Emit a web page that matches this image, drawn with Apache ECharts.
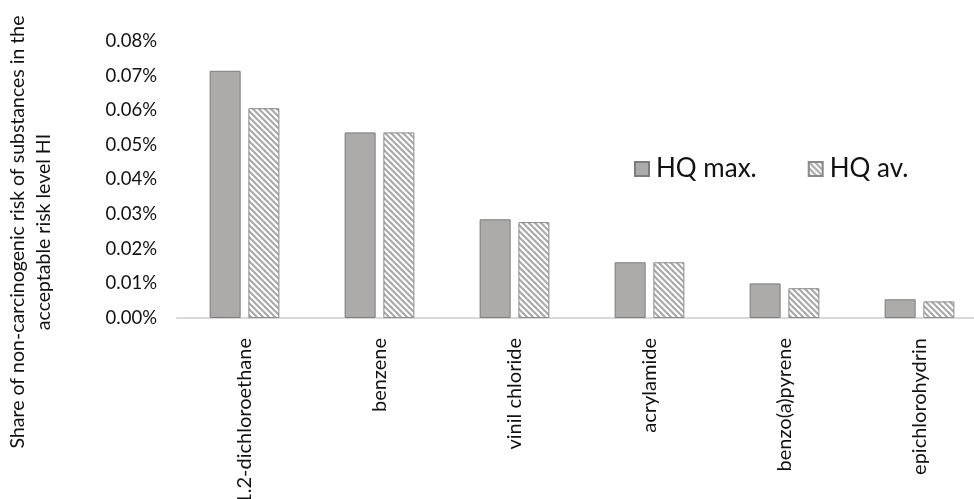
<!DOCTYPE html>
<html>
<head>
<meta charset="utf-8">
<script src="https://cdn.jsdelivr.net/npm/echarts@6/dist/echarts.min.js"></script>
<style>
  html, body { margin: 0; padding: 0; background: #fff; }
  #chart { width: 974px; height: 499px; }
</style>
</head>
<body>
<div id="chart"></div>
<script>
// Substances on the x axis
const categories = ['1.2-dichloroethane', 'benzene', 'vinil chloride', 'acrylamide', 'benzo(a)pyrene', 'epichlorohydrin'];
// Share of non-carcinogenic risk, in percent
const hqMax = [0.0714, 0.0536, 0.0285, 0.0161, 0.0100, 0.0054];
const hqAv  = [0.0606, 0.0536, 0.0277, 0.0161, 0.0086, 0.0048];
const seriesNames = ['HQ max.', 'HQ av.'];
const yTitle = 'Share of non-carcinogenic risk of substances in the\nacceptable risk level HI';

const FONT = 'Lato, "Open Sans", sans-serif';

// Diagonal hatch tile for the average series
function hatchTile() {
  const s = 6;
  const c = document.createElement('canvas');
  c.width = s; c.height = s;
  const g = c.getContext('2d');
  g.fillStyle = '#ffffff';
  g.fillRect(0, 0, s, s);
  g.strokeStyle = '#a9a9a9';
  g.lineWidth = 2.2;
  for (let k = -1; k <= 1; k++) {
    g.beginPath();
    g.moveTo(k * s - 1, -1);
    g.lineTo(k * s + s + 1, s + 1);
    g.stroke();
  }
  return c;
}

const chart = echarts.init(document.getElementById('chart'));
chart.setOption({
  animation: false,
  backgroundColor: '#ffffff',
  // plot area runs a little past the right edge of the canvas
  grid: { left: 177, top: 41, width: 810, height: 277, outerBoundsMode: 'none', containLabel: false },
  legend: {
    left: 629, top: 151,
    itemWidth: 14, itemHeight: 14, itemGap: 51,
    icon: 'rect',
    textStyle: { fontFamily: FONT, fontSize: 26, color: '#111', padding: [0, 0, 0, 2] },
    data: seriesNames
  },
  xAxis: {
    type: 'category',
    data: categories,
    axisLine: { lineStyle: { color: '#d9d9d9', width: 2 } },
    axisTick: { show: false },
    axisLabel: { rotate: 90, margin: 20, fontFamily: FONT, fontSize: 20, color: '#111', interval: 0 }
  },
  yAxis: {
    type: 'value',
    min: 0, max: 0.08, interval: 0.01,
    splitLine: { show: false },
    axisLine: { show: false },
    axisTick: { show: false },
    axisLabel: {
      margin: 20, fontFamily: FONT, fontSize: 18.5, color: '#111',
      padding: [7, 0, 0, 0],
      formatter: v => v.toFixed(2) + '%'
    }
  },
  graphic: [{
    type: 'text',
    x: 31, y: 232,
    rotation: Math.PI / 2,
    style: {
      text: yTitle,
      font: '19.5px ' + FONT,
      fill: '#111',
      align: 'center',
      verticalAlign: 'middle',
      lineHeight: 26
    }
  }],
  series: [
    {
      name: seriesNames[0], type: 'bar', data: hqMax,
      barWidth: 31, barGap: '25%',
      itemStyle: { color: '#acabaa', borderColor: '#7c7c7c', borderWidth: 1 }
    },
    {
      name: seriesNames[1], type: 'bar', data: hqAv,
      barWidth: 31,
      itemStyle: { color: { image: hatchTile(), repeat: 'repeat' }, borderColor: '#8a8a8a', borderWidth: 1 }
    }
  ]
});
</script>
</body>
</html>
